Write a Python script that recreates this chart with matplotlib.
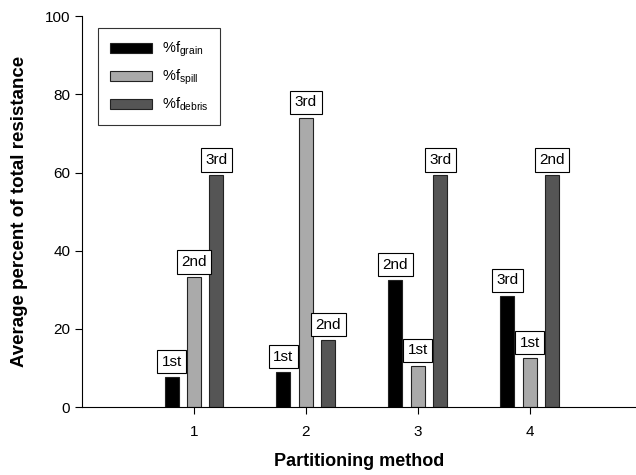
import numpy as np
import matplotlib
matplotlib.use("Agg")
from matplotlib import pyplot as plt

plt.rcParams['font.family'] = ['Liberation Sans', 'DejaVu Sans']
plt.rcParams['mathtext.default'] = 'regular'

# data
methods = [1, 2, 3, 4]
grain = [7.7, 9.0, 32.5, 28.5]
spill = [33.2, 74.0, 10.6, 12.5]
debris = [59.3, 17.2, 59.3, 59.3]
grain_rank = ['1st', '1st', '2nd', '3rd']
spill_rank = ['2nd', '3rd', '1st', '1st']
debris_rank = ['3rd', '2nd', '3rd', '2nd']

fig = plt.figure(figsize=(6.36, 4.75), dpi=100)
ax = fig.add_axes([0.129, 0.143, 0.871, 0.823])

x = np.array(methods)
w = 0.125
off = 0.2
series = [
    (grain, grain_rank, '#000000', r'%f$_{grain}$', -off),
    (spill, spill_rank, '#aaaaaa', r'%f$_{spill}$', 0),
    (debris, debris_rank, '#555555', r'%f$_{debris}$', off),
]
for vals, ranks, col, lab, dx in series:
    bars = ax.bar(x + dx, vals, w, color=col, edgecolor='#222222', linewidth=0.8, label=lab)
    for b, r in zip(bars, ranks):
        ax.annotate(r, (b.get_x() + b.get_width() / 2, b.get_height()),
                    xytext=(0, 6), textcoords='offset points', ha='center', va='bottom',
                    fontsize=11,
                    bbox=dict(boxstyle='square,pad=0.3', fc='white', ec='black', lw=0.8))

ax.set_xlim(0, 4.95)
ax.set_ylim(0, 100)
ax.set_xticks(methods)
ax.set_yticks([0, 20, 40, 60, 80, 100])
ax.spines['top'].set_visible(False)
ax.spines['right'].set_visible(False)
ax.tick_params(direction='out', length=5, labelsize=11, color='black', width=0.8)
ax.tick_params(axis='x', pad=8)
ax.set_xlabel('Partitioning method', fontsize=13, fontweight='bold', labelpad=10)
ax.set_ylabel('Average percent of total resistance', fontsize=13.5, fontweight='bold', labelpad=12)

leg = ax.legend(loc='upper left', bbox_to_anchor=(0.029, 0.969), fontsize=10.5, frameon=True,
                fancybox=False, edgecolor='black', handlelength=2.9, handleheight=0.7,
                borderpad=0.8, labelspacing=0.6, handletextpad=0.65, borderaxespad=0)
leg.get_frame().set_linewidth(0.8)

plt.savefig('out.png', dpi=100)
